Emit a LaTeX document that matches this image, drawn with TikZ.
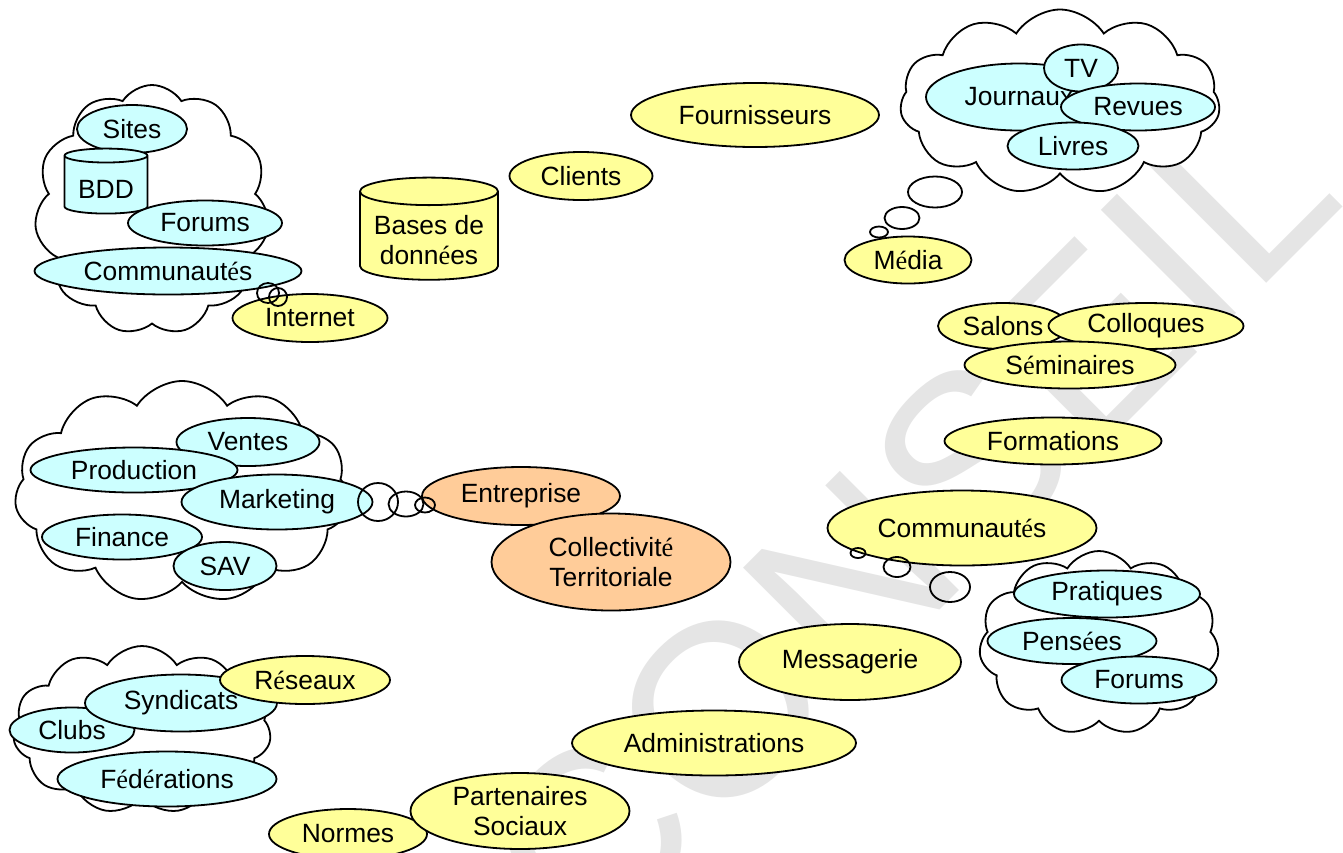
\documentclass[tikz,border=0pt]{standalone}
\usepackage{fontspec}
\setmainfont{Liberation Sans}
\newfontfamily\accfont{Liberation Serif}
\newcommand{\eac}{{\accfont é}}
\usetikzlibrary{shapes.geometric,shapes.symbols}
\definecolor{jaunef}{HTML}{FFFF99}
\definecolor{cyanf}{HTML}{CCFFFF}
\definecolor{orangef}{HTML}{FFCC99}

\begin{document}
\begin{tikzpicture}[x=0.5pt,y=-0.5pt,line width=0.9pt,
  font=\fontsize{13.2}{15}\selectfont,
  dim/.style 2 args={minimum width=#1*0.5pt, minimum height=#2*0.5pt}]

\tikzstyle{el} = [ellipse, draw=black, inner sep=0pt, text centered, align=center]
\tikzstyle{jaune} = [el, fill=jaunef]
\tikzstyle{bleu} = [el, fill=cyanf]
\tikzstyle{orange} = [el, fill=orangef]
\tikzstyle{nuage} = [cloud, draw=black, fill=white, cloud puffs=11, cloud puff arc=115, cloud ignores aspect, inner sep=0pt]
\tikzstyle{bulle} = [ellipse, draw=black, inner sep=0pt]
\tikzstyle{base} = [cylinder, shape border rotate=90, draw=black, aspect=0.25, inner sep=0pt, align=center, cylinder uses custom fill]

\useasboundingbox (0,0) rectangle (1343,852);

% filigrane
\node (filigrane) [anchor=base west, rotate=45, inner sep=0pt, text=gray!20,
  font=\fontsize{122.5}{122.5}\selectfont] at (588,962) {CONSEIL};

% nuages
\node (nInternet) [nuage, dim={235}{250}] at (152,210) {};
\node (nMedia) [nuage, dim={320}{185}] at (1060,102) {};
\node (nEntreprise) [nuage, dim={335}{222}] at (182,492) {};
\node (nCommu) [nuage, dim={240}{184}] at (1099,643) {};
\node (nReseaux) [nuage, dim={258}{168}] at (142,730) {};

% Internet
\node (sites) [bleu, dim={110}{48}] at (132,129) {Sites};
\node (bdd) [base, cylinder body fill=cyanf, cylinder end fill=cyanf, dim={83}{65}] at (106,185) {\rule{0pt}{13.6pt}BDD};
\node (forums) [bleu, dim={154}{45}] at (205,223) {Forums};
\node (commu) [bleu, dim={267}{47}] at (168,271) {Communaut\eac s};
\node (internet) [jaune, dim={155}{48}] at (310,318) {Internet};

% centre haut
\node (bases) [base, cylinder body fill=jaunef, cylinder end fill=jaunef, dim={138}{100}] at (429,236)
  {\raisebox{-3.5pt}[\height][\depth]{\begin{tabular}{@{}c@{}}Bases de\\donn\eac es\end{tabular}}};
\node (clients) [jaune, dim={143}{48}] at (581,176) {Clients};
\node (fourn) [jaune, dim={248}{64}] at (755,115) {Fournisseurs};

% Media
\node (journaux) [bleu, dim={186}{67}] at (1019,97) {Journaux};
\node (tv) [bleu, dim={74}{47}] at (1081,68) {TV};
\node (revues) [bleu, dim={154}{47}] at (1138,107) {Revues};
\node (livres) [bleu, dim={131}{47}] at (1073,146) {Livres};
\node (media) [jaune, dim={127}{47}] at (908,260) {M\eac dia};

% evenements
\node (salons) [jaune, dim={130}{46}] at (1003,326) {Salons};
\node (colloques) [jaune, dim={195}{46}] at (1146,326) {Colloques};
\node (seminaires) [jaune, dim={211}{47}] at (1070,365) {S\eac minaires};
\node (formations) [jaune, dim={217}{47}] at (1053,441) {Formations};

% Entreprise
\node (ventes) [bleu, dim={143}{48}] at (248,442) {Ventes};
\node (production) [bleu, dim={207}{45}] at (134,470) {Production};
\node (marketing) [bleu, dim={191}{55}] at (277,502) {Marketing};
\node (finance) [bleu, dim={160}{45}] at (122,537) {Finance};
\node (sav) [bleu, dim={103}{48}] at (225,566) {SAV};
\node (entreprise) [orange, dim={198}{58}] at (521,496) {Entreprise};
\node (collectivite) [orange, dim={239}{97}] at (611,562) {Collectivit\eac\\Territoriale};

% Communautes
\node (commu2) [jaune, dim={269}{75}] at (962,528) {Communaut\eac s};
\node (pratiques) [bleu, dim={186}{47}] at (1107,594) {Pratiques};
\node (pensees) [bleu, dim={169}{46}] at (1072,641) {Pens\eac es};
\node (forums2) [bleu, dim={155}{47}] at (1139,680) {Forums};

% bas
\node (messagerie) [jaune, dim={222}{76}] at (850,662) {Messagerie};
\node (admin) [jaune, dim={284}{65}] at (714,743) {Administrations};
\node (normes) [jaune, dim={158}{50}] at (348,834) {Normes};
\node (partenaires) [jaune, dim={219}{76}] at (520,811) {Partenaires\\Sociaux};

% Reseaux
\node (clubs) [bleu, dim={125}{45}] at (72,730) {Clubs};
\node (syndicats) [bleu, dim={192}{57}] at (181,703) {Syndicats};
\node (reseaux) [jaune, dim={170}{48}] at (305,680) {R\eac seaux};
\node (federations) [bleu, dim={219}{55}] at (167,779) {F\eac d\eac rations};

% bulles
\node (bI1) [bulle, dim={22}{20}] at (268,293) {};
\node (bI2) [bulle, dim={18}{18}] at (278,297) {};
\node (bM1) [bulle, dim={54}{31}] at (935,192) {};
\node (bM2) [bulle, dim={35}{22}] at (902,218) {};
\node (bM3) [bulle, dim={18}{11}] at (879,232) {};
\node (bE1) [bulle, dim={40}{38}] at (378,502) {};
\node (bE2) [bulle, dim={35}{25}] at (406,504) {};
\node (bE3) [bulle, dim={20}{15}] at (425,505) {};
\node (bC1) [bulle, dim={15}{10}] at (858,553) {};
\node (bC2) [bulle, dim={27}{20}] at (897,567) {};
\node (bC3) [bulle, dim={40}{30}] at (950,587) {};

\end{tikzpicture}
\end{document}
